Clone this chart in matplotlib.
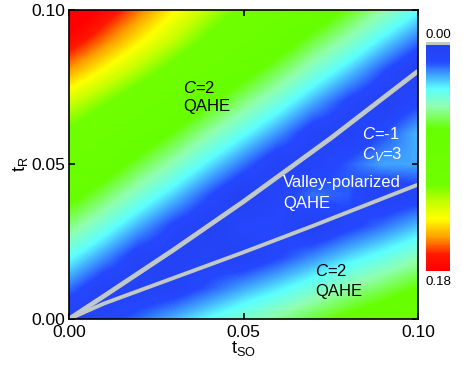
import numpy as np
import matplotlib
matplotlib.use("Agg")
import matplotlib.pyplot as plt
from matplotlib.colors import LinearSegmentedColormap, Normalize

plt.rcParams['font.family'] = ['Liberation Sans', 'DejaVu Sans']
plt.rcParams['mathtext.fontset'] = 'custom'
plt.rcParams['mathtext.rm'] = 'Liberation Sans'
plt.rcParams['mathtext.it'] = 'Liberation Sans:italic'

# grid of t_SO (columns) and t_R (rows)
t_so = [0.00, 0.01, 0.02, 0.03, 0.04, 0.05, 0.06, 0.07, 0.08, 0.09, 0.10]
t_r = [0.00, 0.01, 0.02, 0.03, 0.04, 0.05, 0.06, 0.07, 0.08, 0.09, 0.10]

# band gap (rows = t_R from 0.00 to 0.10)
gap = [
    [0.000, 0.009, 0.017, 0.026, 0.035, 0.044, 0.052, 0.061, 0.070, 0.078, 0.087],
    [0.018, 0.004, 0.004, 0.006, 0.015, 0.024, 0.032, 0.041, 0.050, 0.058, 0.067],
    [0.036, 0.022, 0.007, 0.004, 0.007, 0.004, 0.012, 0.021, 0.030, 0.038, 0.047],
    [0.054, 0.040, 0.025, 0.011, 0.002, 0.011, 0.011, 0.001, 0.010, 0.018, 0.027],
    [0.072, 0.058, 0.043, 0.029, 0.014, 0.000, 0.009, 0.018, 0.015, 0.002, 0.007],
    [0.090, 0.076, 0.061, 0.047, 0.032, 0.018, 0.004, 0.007, 0.015, 0.024, 0.024],
    [0.108, 0.094, 0.079, 0.065, 0.050, 0.036, 0.022, 0.007, 0.004, 0.013, 0.026],
    [0.128, 0.114, 0.099, 0.084, 0.068, 0.054, 0.040, 0.025, 0.011, 0.002, 0.011],
    [0.152, 0.137, 0.121, 0.105, 0.088, 0.072, 0.058, 0.043, 0.029, 0.014, 0.000],
    [0.175, 0.158, 0.141, 0.125, 0.108, 0.092, 0.076, 0.061, 0.047, 0.032, 0.018],
    [0.195, 0.176, 0.158, 0.140, 0.124, 0.108, 0.094, 0.079, 0.065, 0.050, 0.036],
]

# gap-closing lines (phase boundaries)
upper_tso = [0.0, 0.01, 0.03, 0.05, 0.075, 0.10]
upper_tr = [0.0, 0.0074, 0.0224, 0.0380, 0.0585, 0.0802]
lower_tso = [0.0, 0.01, 0.03, 0.05, 0.07, 0.10]
lower_tr = [0.0, 0.0050, 0.0133, 0.0216, 0.0302, 0.0435]

stops = [0.00, 0.07, 0.19, 0.27, 0.37, 0.62, 0.70, 0.77, 0.85, 0.93, 1.00]
colors = ['#2440f2', '#2448ff', '#5cffff', '#90ffb0', '#66ff00', '#70ff00',
          '#c8ff00', '#ffff00', '#ffa000', '#ff1800', '#ff0000']
cmap = LinearSegmentedColormap.from_list('gapmap', list(zip(stops, colors)))
cmap.set_under('#c2c9c9')
gray = '#c2c9c9'

fig = plt.figure(figsize=(4.63, 3.66), dpi=100)
ax = fig.add_axes([69/463, 1 - 319/366, 349/463, 309/366])

step = t_so[1] - t_so[0]
im = ax.imshow(np.array(gap), origin='lower', cmap=cmap, norm=Normalize(0.0, 0.18),
               extent=[t_so[0] - step/2, t_so[-1] + step/2, t_r[0] - step/2, t_r[-1] + step/2],
               interpolation='bilinear', interpolation_stage='data', aspect='auto')

ax.plot(upper_tso, upper_tr, color=gray, lw=3.4, solid_capstyle='butt')
ax.plot(lower_tso, lower_tr, color=gray, lw=2.8, solid_capstyle='butt')

ax.set_xlim(0, 0.1)
ax.set_ylim(0, 0.1)
ax.set_xticks([0, 0.05, 0.1])
ax.set_yticks([0, 0.05, 0.1])
ax.set_xticklabels(['0.00', '0.05', '0.10'])
ax.set_yticklabels(['0.00', '0.05', '0.10'])
ax.tick_params(direction='in', top=True, right=True, length=4, width=1.2,
               labelsize=12.5)
ax.tick_params(axis='x', pad=4.5)
ax.tick_params(axis='y', pad=3)
for s in ax.spines.values():
    s.set_linewidth(1.2)
ax.set_xlabel(r'$\mathrm{t_{SO}}$', fontsize=13, labelpad=-1)
ax.set_ylabel(r'$\mathrm{t_R}$', fontsize=13, labelpad=1)

# phase labels
ax.text(0.0327, 0.0749, r'$C$=2', fontsize=12, color='black', va='center')
ax.text(0.0327, 0.0688, 'QAHE', fontsize=12, color='black', va='center')
ax.text(0.0840, 0.0599, r'$C$=-1', fontsize=12, color='white', va='center')
ax.text(0.0840, 0.0531, r'$C_V$=3', fontsize=12, color='white', va='center')
ax.text(0.0613, 0.0442, 'Valley-polarized', fontsize=12, color='white', va='center')
ax.text(0.0613, 0.0375, 'QAHE', fontsize=12, color='white', va='center')
ax.text(0.0705, 0.0155, r'$C$=2', fontsize=12, color='black', va='center')
ax.text(0.0705, 0.0089, 'QAHE', fontsize=12, color='black', va='center')

# colorbar, zero gap (gray) at the top
cax = fig.add_axes([426/463, 1 - 271/366, 24/463, 229/366])
cb = fig.colorbar(im, cax=cax, extend='min', extendrect=True, extendfrac=0.015)
cb.outline.set_visible(False)
cax.invert_yaxis()
cax.set_yticks([])
cax.tick_params(length=0)
cax.text(0.5, 1.02, '0.00', transform=cax.transAxes, ha='center', va='bottom', fontsize=9.5)
cax.text(0.5, -0.02, '0.18', transform=cax.transAxes, ha='center', va='top', fontsize=9.5)

fig.savefig('out.png', dpi=100)
